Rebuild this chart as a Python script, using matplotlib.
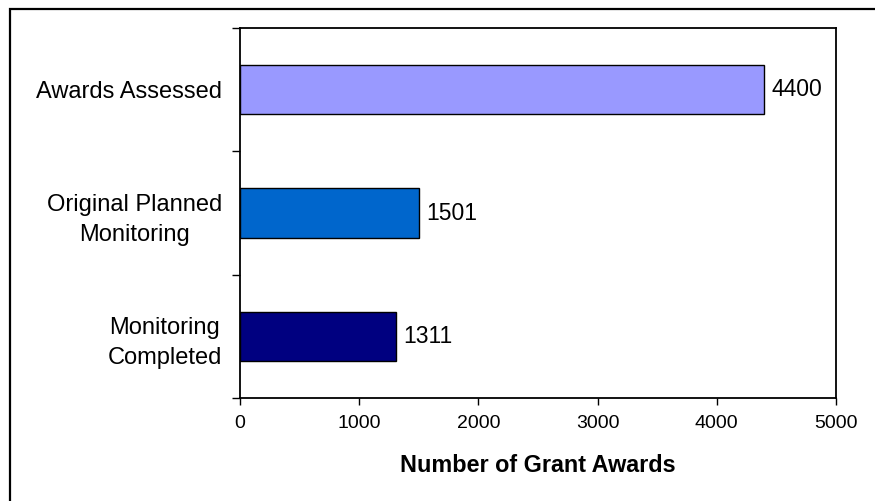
import matplotlib.pyplot as plt
from matplotlib.patches import Rectangle
from matplotlib.ticker import FixedLocator

plt.rcParams["font.family"] = ["Liberation Sans", "DejaVu Sans"]

categories = ["Monitoring\nCompleted", "Original Planned\nMonitoring", "Awards Assessed"]
values = [1311, 1501, 4400]
colors = ["#000080", "#0066CC", "#9999FF"]
xticks = [0, 1000, 2000, 3000, 4000, 5000]

fig = plt.figure(figsize=(8.75, 5.01), dpi=100)
ax = fig.add_axes([240 / 875, 1 - 398 / 501, 596 / 875, 370 / 501])

# frame around the whole chart (right and bottom fall off the image)
fig.patches.append(Rectangle((10 / 875, -0.1), 1.2, 1 - 9 / 501 + 0.1,
                             transform=fig.transFigure, fill=False,
                             edgecolor="black", linewidth=1.6))

pos = [i + 0.5 for i in range(len(categories))]
ax.barh(pos, values, height=0.4, color=colors, edgecolor="black", linewidth=1.0)

for y, v in zip(pos, values):
    ax.text(v + 60, y, str(v), va="center", ha="left", fontsize=16.5)

ax.set_xlim(0, 5000)
ax.set_ylim(0, 3)
ax.set_xticks(xticks)
ax.set_xticklabels([str(t) for t in xticks], fontsize=14)
ax.tick_params(axis="x", length=5, width=1, pad=7)

ax.set_yticks(pos)
ax.set_yticklabels(categories, fontsize=17, linespacing=1.5, multialignment="center")
ax.tick_params(axis="y", which="major", length=0, pad=13)
ax.yaxis.set_minor_locator(FixedLocator([0, 1, 2, 3]))
ax.tick_params(axis="y", which="minor", length=6, width=1)

for s in ax.spines.values():
    s.set_linewidth(1.3)

ax.set_xlabel("Number of Grant Awards", fontsize=16.8, fontweight="bold", labelpad=16)

fig.savefig("out.png", dpi=100)
